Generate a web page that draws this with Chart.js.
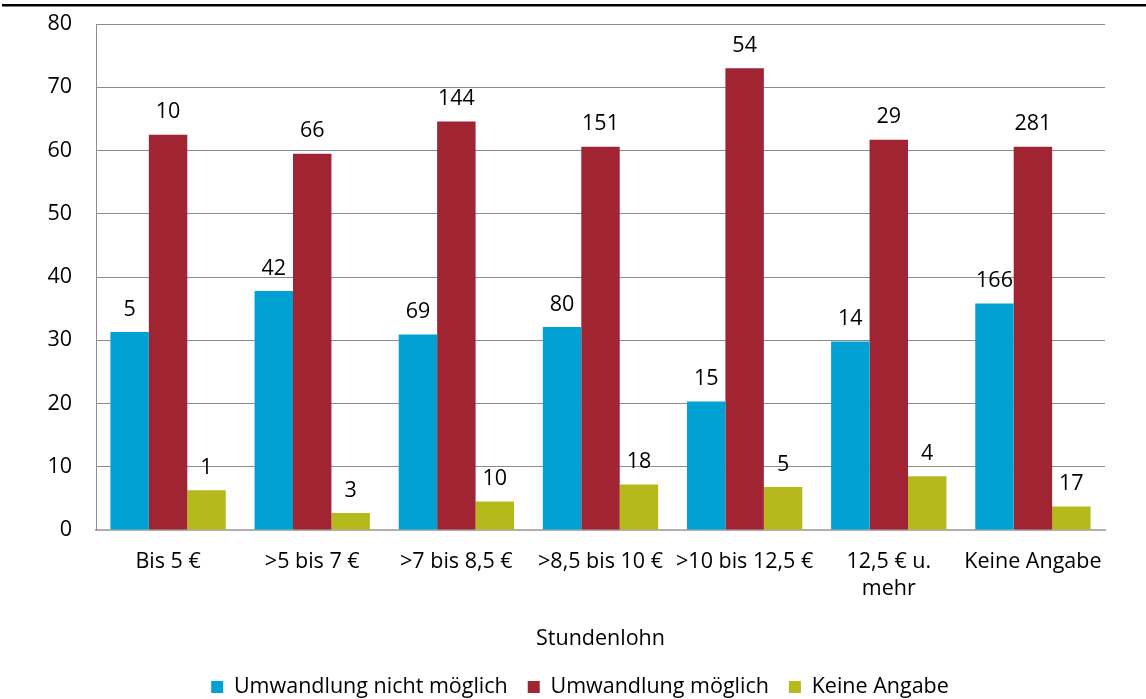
<!DOCTYPE html>
<html lang="de">
<head>
<meta charset="utf-8">
<title>Stundenlohn – Umwandlung</title>
<script src="https://cdn.jsdelivr.net/npm/chart.js@4/dist/chart.umd.min.js"></script>
<style>
  html, body { margin: 0; padding: 0; background: #fff; }
  #wrap { width: 1146px; height: 699px; position: relative; }
</style>
</head>
<body>
<div id="wrap"><canvas id="chart" width="1146" height="699"></canvas></div>
<script>
// Stundenlohn-Klassen (x-Achse)
const categories = ['Bis 5 €', '>5 bis 7 €', '>7 bis 8,5 €', '>8,5 bis 10 €', '>10 bis 12,5 €', ['12,5 € u.', 'mehr'], 'Keine Angabe'];
const seriesNames = ['Umwandlung nicht möglich', 'Umwandlung möglich', 'Keine Angabe'];

// Anteile in Prozent je Lohnklasse
const nichtMoeglich = [31.3, 37.8, 30.9, 32.1, 20.3, 29.8, 35.8];
const moeglich = [62.5, 59.5, 64.6, 60.6, 73.0, 61.7, 60.6];
const keineAngabe = [6.3, 2.7, 4.5, 7.2, 6.8, 8.5, 3.7];

// Fallzahlen, die über den Balken stehen
const nNichtMoeglich = [5, 42, 69, 80, 15, 14, 166];
const nMoeglich = [10, 66, 144, 151, 54, 29, 281];
const nKeineAngabe = [1, 3, 10, 18, 5, 4, 17];

const yTicks = [0, 10, 20, 30, 40, 50, 60, 70, 80];
const colors = ['#00a1d3', '#a02432', '#b5b91b'];
const FONT = '"Open Sans", Lato, sans-serif';
const FONT_SIZE = 21.5;

// Fallzahlen über die Balken schreiben
const countLabels = {
  id: 'countLabels',
  afterDatasetsDraw(chart) {
    const ctx = chart.ctx;
    ctx.save();
    ctx.font = FONT_SIZE + 'px ' + FONT;
    ctx.fillStyle = '#000';
    ctx.textAlign = 'center';
    ctx.textBaseline = 'middle';
    chart.data.datasets.forEach((ds, i) => {
      chart.getDatasetMeta(i).data.forEach((bar, j) => {
        ctx.fillText(String(ds.counts[j]), bar.x, bar.y - 22.5);
      });
    });
    ctx.restore();
  }
};

// schwarze Linie am oberen Rand
const topRule = {
  id: 'topRule',
  beforeDraw(chart) {
    const ctx = chart.ctx;
    ctx.save();
    ctx.fillStyle = '#000';
    ctx.fillRect(2, 4, chart.width, 2.5);
    ctx.restore();
  }
};

// Legende etwas nach rechts schieben (mittig unter dem Plotbereich)
const legendShift = {
  id: 'legendShift',
  afterLayout(chart) {
    if (chart.legend) {
      chart.legend.left += 27.5;
      chart.legend.right += 27.5;
    }
  }
};

new Chart(document.getElementById('chart'), {
  type: 'bar',
  data: {
    labels: categories,
    datasets: [
      { label: seriesNames[0], data: nichtMoeglich, counts: nNichtMoeglich, backgroundColor: colors[0] },
      { label: seriesNames[1], data: moeglich, counts: nMoeglich, backgroundColor: colors[1] },
      { label: seriesNames[2], data: keineAngabe, counts: nKeineAngabe, backgroundColor: colors[2] }
    ]
  },
  options: {
    responsive: false,
    animation: false,
    events: [],
    layout: { padding: { top: 24, right: 41, left: 0, bottom: -8.75 } },
    datasets: { bar: { categoryPercentage: 0.8, barPercentage: 1.0, borderWidth: 0 } },
    scales: {
      x: {
        grid: { display: false, drawTicks: false },
        border: { color: '#b0b0b0', width: 2 },
        ticks: { color: '#000', font: { family: FONT, size: FONT_SIZE, lineHeight: 1.23 }, padding: 19, maxRotation: 0, autoSkip: false },
        title: { display: true, text: 'Stundenlohn', color: '#000', font: { family: FONT, size: FONT_SIZE }, padding: { top: 0, bottom: 4 } },
        afterFit(scale) {
          scale.height = 126.25;
          scale.paddingLeft = 0;
          scale.paddingRight = 0;
        }
      },
      y: {
        min: 0,
        max: 80,
        afterBuildTicks(scale) { scale.ticks = yTicks.map(v => ({ value: v })); },
        grid: { color: '#8c8c8c', lineWidth: 1, drawTicks: false },
        border: { color: '#8c8c8c', width: 1 },
        ticks: { color: '#000', font: { family: FONT, size: FONT_SIZE }, padding: 24 },
        afterFit(scale) {
          scale.width = 96;
          scale.paddingTop = 0;
          scale.paddingBottom = 0;
        }
      }
    },
    plugins: {
      legend: {
        position: 'bottom',
        labels: { color: '#000', font: { family: FONT, size: FONT_SIZE }, boxWidth: 12, boxHeight: 12, padding: 20 }
      },
      tooltip: { enabled: false }
    }
  },
  plugins: [topRule, legendShift, countLabels]
});
</script>
</body>
</html>
